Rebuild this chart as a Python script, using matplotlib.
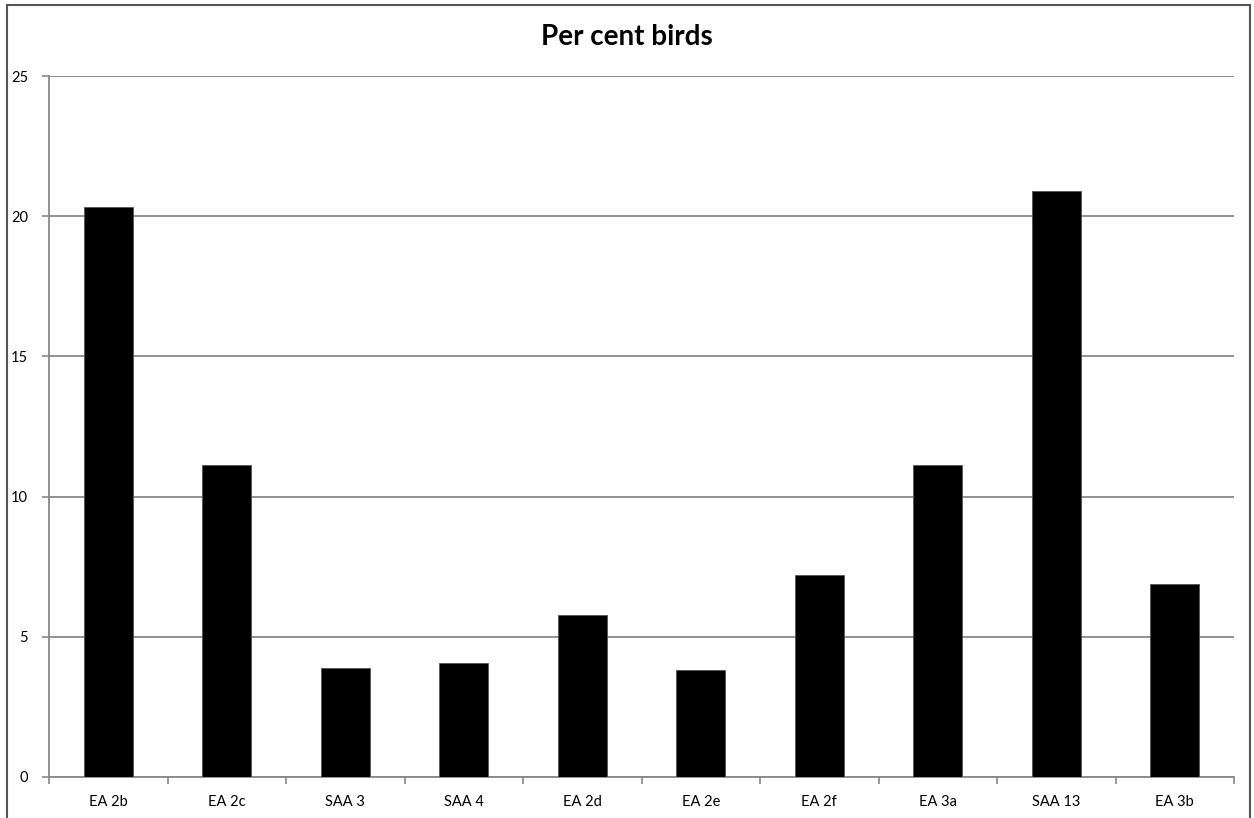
import matplotlib
matplotlib.use("Agg")
import numpy as np
import matplotlib.pyplot as plt
from matplotlib.patches import Rectangle

sites = ["EA 2b", "EA 2c", "SAA 3", "SAA 4", "EA 2d", "EA 2e", "EA 2f", "EA 3a", "SAA 13", "EA 3b"]
per_cent = [20.33, 11.13, 3.88, 4.06, 5.76, 3.83, 7.21, 11.13, 20.89, 6.90]
y_ticks = [0, 5, 10, 15, 20, 25]

plt.rcParams['font.family'] = ['Lato', 'DejaVu Sans']

fig = plt.figure(figsize=(12.54, 8.18), dpi=100)
ax = fig.add_axes([49 / 1254, 41 / 818, 1185 / 1254, 701 / 818])

x = np.arange(len(sites))
ax.bar(x, per_cent, width=0.41, color='black', edgecolor='#555555', linewidth=0.6, zorder=3)

ax.set_xlim(-0.5, len(sites) - 0.5)
ax.set_ylim(0, 25)
ax.set_yticks(y_ticks)
ax.set_xticks(x)
ax.set_xticklabels(sites, fontsize=10.5)
ax.set_xticks(np.arange(len(sites) + 1) - 0.5, minor=True)
ax.tick_params(axis='x', which='major', length=0, pad=13)
ax.tick_params(axis='x', which='minor', length=5, color='#888888', width=1.2)
ax.tick_params(axis='y', length=5, color='#888888', width=1.2, labelsize=10.5, pad=10)

ax.yaxis.grid(True, color='#888888', linewidth=1.3, zorder=0)
ax.set_axisbelow(True)
for side in ['top', 'right']:
    ax.spines[side].set_visible(False)
for side in ['left', 'bottom']:
    ax.spines[side].set_color('#888888')
    ax.spines[side].set_linewidth(1.3)

fig.text(0.5, 1 - 37 / 818, "Per cent birds", ha='center', va='center',
         fontsize=20, fontweight='bold')

# chart border, open at the bottom edge of the image
fig.patches.append(Rectangle((7 / 1254, -0.05), (1250 - 7) / 1254, 1.05 - 5 / 818,
                             transform=fig.transFigure, fill=False,
                             edgecolor='#555555', linewidth=1.5))

fig.savefig("out.png", dpi=100)
